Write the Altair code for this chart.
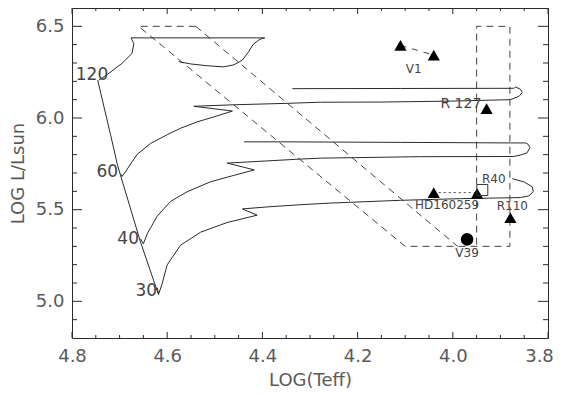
import altair as alt
import pandas as pd

# ---------------- data ----------------
zams_teff = [4.746, 4.719, 4.705, 4.698, 4.656, 4.621, 4.618]
zams_logl = [6.206, 5.909, 5.749, 5.687, 5.323, 5.057, 5.036]

t120_teff = [4.744, 4.726, 4.695, 4.674, 4.670, 4.676, 4.395, 4.405, 4.419, 4.429,
             4.442, 4.460, 4.481, 4.516, 4.551, 4.576]
t120_logl = [6.206, 6.237, 6.298, 6.352, 6.405, 6.437, 6.437, 6.430, 6.403, 6.361,
             6.316, 6.290, 6.279, 6.285, 6.295, 6.307]

t60_teff = [4.698, 4.695, 4.688, 4.677, 4.663, 4.635, 4.600, 4.572, 4.537, 4.502,
            4.463, 4.544, 4.461, 4.348, 4.278, 4.152, 4.005, 3.879, 3.861, 3.854,
            3.858, 3.868, 3.872, 4.110, 4.337]
t60_logl = [5.696, 5.681, 5.705, 5.749, 5.802, 5.861, 5.909, 5.944, 5.979, 6.006,
            6.038, 6.064, 6.072, 6.080, 6.086, 6.087, 6.092, 6.100, 6.118, 6.139,
            6.157, 6.169, 6.162, 6.161, 6.160]

t40_teff = [4.656, 4.650, 4.642, 4.621, 4.593, 4.558, 4.509, 4.460, 4.417, 4.474,
            4.320, 4.278, 4.068, 3.872, 3.858, 3.844, 3.838, 3.841, 3.847, 3.879,
            4.110, 4.362, 4.439]
t40_logl = [5.341, 5.314, 5.368, 5.465, 5.545, 5.598, 5.652, 5.687, 5.717, 5.754,
            5.776, 5.781, 5.789, 5.790, 5.798, 5.810, 5.838, 5.855, 5.864, 5.864,
            5.867, 5.870, 5.870]

t30_teff = [4.621, 4.618, 4.611, 4.600, 4.572, 4.530, 4.474, 4.411, 4.442, 4.390,
            4.320, 4.257, 4.110, 3.984, 3.858, 3.840, 3.831, 3.833, 3.851, 3.875]
t30_logl = [5.075, 5.040, 5.093, 5.199, 5.306, 5.377, 5.430, 5.470, 5.504, 5.515,
            5.527, 5.536, 5.551, 5.560, 5.566, 5.575, 5.598, 5.625, 5.652, 5.669]

# dashed regions
dashA_teff = [4.54, 4.66, 4.10, 3.88, 3.88, 3.95, 3.95]
dashA_logl = [6.50, 6.50, 5.30, 5.30, 6.50, 6.50, 5.30]
dashB_teff = [4.54, 3.99]
dashB_logl = [6.50, 5.30]

# stars
tri_teff = [4.110, 4.040, 3.929, 4.040, 3.949, 3.879]
tri_logl = [6.396, 6.343, 6.051, 5.593, 5.589, 5.456]
circ_teff = [3.970]
circ_logl = [5.338]
sq_teff = [3.938]
sq_logl = [5.607]
v1_link_teff = [4.110, 4.040]
v1_link_logl = [6.396, 6.343]
hd_link_teff = [4.040, 3.949]
hd_link_logl = [5.593, 5.593]

star_text = ["V1", "R40", "HD160259", "R110", "V39"]
star_text_teff = [4.082, 3.914, 4.012, 3.875, 3.970]
star_text_logl = [6.266, 5.669, 5.523, 5.520, 5.266]
r127_text = ["R 127"]
r127_teff = [3.983]
r127_logl = [6.077]

mass_text = ["120", "60", "40", "30"]
mass_teff = [4.758, 4.726, 4.682, 4.644]
mass_logl = [6.236, 5.705, 5.341, 5.057]

x_labels = [4.8, 4.6, 4.4, 4.2, 4.0, 3.8]
x_minor = [4.75, 4.7, 4.65, 4.55, 4.5, 4.45, 4.35, 4.3, 4.25, 4.15, 4.1, 4.05,
           3.95, 3.9, 3.85]
y_labels = [5.0, 5.5, 6.0, 6.5]
y_minor = [4.9, 5.1, 5.2, 5.3, 5.4, 5.6, 5.7, 5.8, 5.9, 6.1, 6.2, 6.3, 6.4]

# ---------------- build tables ----------------
def line_table(groups):
    rows = []
    for name, tx, ly in groups:
        for i, (a, b) in enumerate(zip(tx, ly)):
            rows.append({"g": name, "i": i, "teff": a, "logl": b})
    return pd.DataFrame(rows)

tracks_df = line_table([("zams", zams_teff, zams_logl), ("120", t120_teff, t120_logl),
                        ("60", t60_teff, t60_logl), ("40", t40_teff, t40_logl),
                        ("30", t30_teff, t30_logl)])
dash_df = line_table([("A", dashA_teff, dashA_logl), ("B", dashB_teff, dashB_logl)])
v1_df = line_table([("v1", v1_link_teff, v1_link_logl)])
hd_df = line_table([("hd", hd_link_teff, hd_link_logl)])

W, H = 476, 330
FONT = "DejaVu Sans"
INK = "#2a2a2a"
TXT = "#5a5a5a"

xs = alt.Scale(domain=[4.8, 3.8], nice=False, zero=False)
ys = alt.Scale(domain=[4.8, 6.6], nice=False, zero=False)
x_axis = alt.Axis(values=x_labels, format=".1f", ticks=False, domain=False, grid=False,
                  labelFontSize=18, labelPadding=9, labelColor=TXT, labelFont=FONT,
                  labelFlush=False, labelOverlap=False,
                  labelOffset={"condition": {"test": "datum.value < 3.85", "value": -9}, "value": 0},
                  title="LOG(Teff)", titleFontSize=18, titleFontWeight="normal",
                  titleColor=TXT, titleFont=FONT, titlePadding=6)
y_axis = alt.Axis(values=y_labels, format=".1f", ticks=False, domain=False, grid=False,
                  labelFontSize=18, labelPadding=8, labelColor=TXT, labelFont=FONT,
                  labelFlush=False, labelOverlap=False,
                  title="LOG L/Lsun", titleFontSize=18, titleFontWeight="normal",
                  titleColor=TXT, titleFont=FONT, titlePadding=8)

def X(f="teff"):
    return alt.X(f"{f}:Q", scale=xs, axis=x_axis)

def Y(f="logl"):
    return alt.Y(f"{f}:Q", scale=ys, axis=y_axis)

tracks = alt.Chart(tracks_df).mark_line(color=INK, strokeWidth=1).encode(
    x=X(), y=Y(), detail="g:N", order="i:Q")
dashed = alt.Chart(dash_df).mark_line(color="#444", strokeWidth=1, strokeDash=[7, 5]).encode(
    x=X(), y=Y(), detail="g:N", order="i:Q")
v1_link = alt.Chart(v1_df).mark_line(color="#444", strokeWidth=1, strokeDash=[6, 6]).encode(
    x=X(), y=Y(), order="i:Q")
hd_link = alt.Chart(hd_df).mark_line(color="#444", strokeWidth=1, strokeDash=[2, 3]).encode(
    x=X(), y=Y(), order="i:Q")

tri = alt.Chart(pd.DataFrame({"teff": tri_teff, "logl": tri_logl})).mark_point(
    shape="triangle-up", filled=True, color="black", size=150, opacity=1).encode(x=X(), y=Y())
circ = alt.Chart(pd.DataFrame({"teff": circ_teff, "logl": circ_logl})).mark_point(
    shape="circle", filled=True, color="black", size=160, opacity=1).encode(x=X(), y=Y())
sq = alt.Chart(pd.DataFrame({"teff": sq_teff, "logl": sq_logl})).mark_point(
    shape="square", filled=False, color="#333", size=121, strokeWidth=1, opacity=1).encode(x=X(), y=Y())

star_lab = alt.Chart(pd.DataFrame({"teff": star_text_teff, "logl": star_text_logl, "t": star_text})).mark_text(
    font=FONT, fontSize=12, color="#444", align="center", baseline="middle").encode(x=X(), y=Y(), text="t:N")
r127_lab = alt.Chart(pd.DataFrame({"teff": r127_teff, "logl": r127_logl, "t": r127_text})).mark_text(
    font=FONT, fontSize=14, color="#444", align="center", baseline="middle").encode(x=X(), y=Y(), text="t:N")
mass_lab = alt.Chart(pd.DataFrame({"teff": mass_teff, "logl": mass_logl, "t": mass_text})).mark_text(
    font=FONT, fontSize=17, color="#444", align="center", baseline="middle").encode(x=X(), y=Y(), text="t:N")

# inward tick marks on all four sides
xmaj = pd.DataFrame({"teff": x_labels})
xmin = pd.DataFrame({"teff": x_minor})
ymaj = pd.DataFrame({"logl": y_labels})
ymin = pd.DataFrame({"logl": y_minor})
tick = dict(color=INK, strokeWidth=1)
ticks = [
    alt.Chart(xmaj).mark_rule(**tick).encode(x=X(), y=alt.value(H), y2=alt.value(H - 6)),
    alt.Chart(xmaj).mark_rule(**tick).encode(x=X(), y=alt.value(0), y2=alt.value(6)),
    alt.Chart(xmin).mark_rule(**tick).encode(x=X(), y=alt.value(H), y2=alt.value(H - 3)),
    alt.Chart(xmin).mark_rule(**tick).encode(x=X(), y=alt.value(0), y2=alt.value(3)),
    alt.Chart(ymaj).mark_rule(**tick).encode(y=Y(), x=alt.value(0), x2=alt.value(10)),
    alt.Chart(ymaj).mark_rule(**tick).encode(y=Y(), x=alt.value(W), x2=alt.value(W - 10)),
    alt.Chart(ymin).mark_rule(**tick).encode(y=Y(), x=alt.value(0), x2=alt.value(5)),
    alt.Chart(ymin).mark_rule(**tick).encode(y=Y(), x=alt.value(W), x2=alt.value(W - 5)),
]

chart = alt.layer(
    dashed, tracks, v1_link, hd_link, tri, circ, sq, star_lab, r127_lab, mass_lab, *ticks
).properties(
    width=W, height=H,
    autosize=alt.AutoSizeParams(type="none"),
    padding={"left": 64, "top": 0, "right": 6, "bottom": 51},
    background="white",
).configure_view(stroke=INK, strokeWidth=1)

chart.save("out.html", embed_options={"renderer": "svg", "actions": False})
